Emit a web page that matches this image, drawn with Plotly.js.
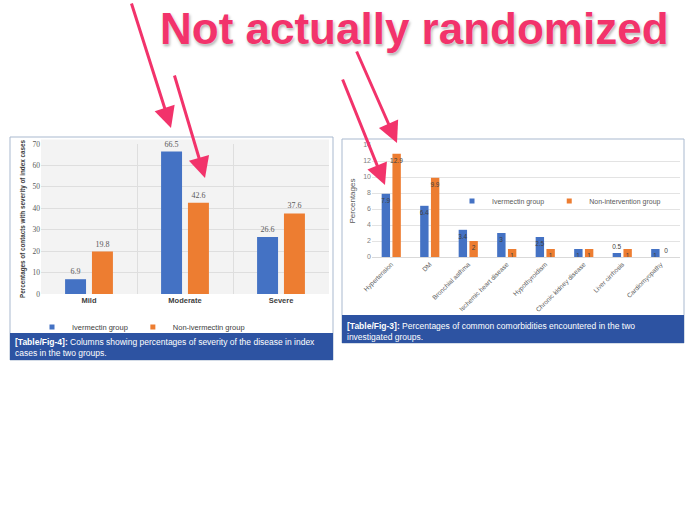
<!DOCTYPE html>
<html>
<head>
<meta charset="utf-8">
<script src="https://cdn.plot.ly/plotly-3.0.1.min.js"></script>
<style>html,body{margin:0;padding:0;background:#fff;}#chart{width:700px;height:525px;}</style>
</head>
<body>
<div id="chart"></div>
<script>
// ---- Data ----
const severityCats = ['Mild', 'Moderate', 'Severe'];
const severityIvermectin = [6.9, 66.5, 26.6];
const severityNonIvermectin = [19.8, 42.6, 37.6];

const comorbidCats = ['Hypertension', 'DM', 'Bronchial asthma', 'Ischemic heart disease',
  'Hypothyroidism', 'Chronic kidney disease', 'Liver cirrhosis', 'Cardiomyopathy'];
const comorbidIvermectin = [7.9, 6.4, 3.4, 3, 2.5, 1, 0.5, 1];
const comorbidNonIntervention = [12.9, 9.9, 2, 1, 1, 1, 1, 0];

const leftYTicks = [0, 10, 20, 30, 40, 50, 60, 70];
const rightYTicks = [0, 2, 4, 6, 8, 10, 12, 14];

const titleText = 'Not actually randomized';
const leftCaptionLabel = '[Table/Fig-4]:';
const leftCaptionText = 'Columns showing percentages of severity of the disease in index<br>cases in the two groups.';
const rightCaptionLabel = '[Table/Fig-3]:';
const rightCaptionText = 'Percentages of common comorbidities encountered in the two<br>investigated groups.';

// ---- Helpers: pixel -> paper ----
const W = 700, H = 525;
const px = x => x / W;
const py = y => 1 - y / H;

const BLUE = '#4472c4', ORANGE = '#ed7d31', PINK = '#f2336b', CAP = '#2d53a2';
const SANS = 'Liberation Sans, Arial, sans-serif';
const SERIF = 'Liberation Serif, serif';

function sevBar(name, vals, color) {
  return {type: 'bar', name: name, x: severityCats, y: vals, xaxis: 'x', yaxis: 'y',
    marker: {color: color}, showlegend: false,
    text: vals.map(String), textposition: 'outside', cliponaxis: false, textangle: 0,
    textfont: {family: SERIF, size: 8, color: '#595959'}};
}
function comBar(name, vals, color) {
  return {type: 'bar', name: name, x: comorbidCats, y: vals, xaxis: 'x2', yaxis: 'y2',
    marker: {color: color}, showlegend: false,
    text: vals.map(String),
    textposition: vals.map(v => v >= 1 ? 'inside' : 'outside'),
    insidetextanchor: 'end', constraintext: 'none', cliponaxis: false, textangle: 0,
    textfont: {family: SANS, size: 6.5, color: '#404040'},
    insidetextfont: {family: SANS, size: 6.5, color: '#404040'},
    outsidetextfont: {family: SANS, size: 6.5, color: '#404040'}};
}
function legendEntry(name, color, legendId, xa, ya, grp) {
  return {type: 'scatter', mode: 'markers', name: name, x: [null], y: [null],
    xaxis: xa, yaxis: ya, legend: legendId, legendgroup: grp,
    marker: {symbol: 'square', size: 5, color: color}, hoverinfo: 'skip'};
}

const traces = [
  sevBar('Ivermectin group', severityIvermectin, BLUE),
  sevBar('Non-ivermectin group', severityNonIvermectin, ORANGE),
  comBar('Ivermectin group', comorbidIvermectin, BLUE),
  comBar('Non-intervention group', comorbidNonIntervention, ORANGE),
  legendEntry('Ivermectin group', BLUE, 'legend', 'x', 'y', 'g1'),
  legendEntry('Non-ivermectin group', ORANGE, 'legend', 'x', 'y', 'g2'),
  legendEntry('Ivermectin group', BLUE, 'legend2', 'x2', 'y2', 'g3'),
  legendEntry('Non-intervention group', ORANGE, 'legend2', 'x2', 'y2', 'g4')
];

// arrows: [tipX, tipY, tailX, tailY] in pixels
const arrows = [
  [171, 128, 131, 2],
  [205, 178, 174, 74],
  [385, 185, 342, 78],
  [397, 143, 356, 50]
];

const annotations = [
  {text: titleText, xref: 'paper', yref: 'paper', x: px(414), y: py(28),
   xanchor: 'center', yanchor: 'middle', showarrow: false,
   font: {family: SANS, size: 44, color: PINK, weight: 'bold',
          shadow: '0px 0px 2px #ffffff, 1px 2px 3px rgba(0,0,0,0.35)'}},
  {text: '<b>' + leftCaptionLabel + '</b> ' + leftCaptionText, xref: 'paper', yref: 'paper',
   x: px(13), y: py(347), xanchor: 'left', yanchor: 'middle', align: 'left', showarrow: false,
   font: {family: SANS, size: 8.5, color: '#ffffff'}},
  {text: '<b>' + rightCaptionLabel + '</b> ' + rightCaptionText, xref: 'paper', yref: 'paper',
   x: px(345), y: py(331), xanchor: 'left', yanchor: 'middle', align: 'left', showarrow: false,
   font: {family: SANS, size: 8.5, color: '#ffffff'}}
];
arrows.forEach(a => annotations.push({
  text: '', xref: 'paper', yref: 'paper', x: px(a[0]), y: py(a[1]),
  axref: 'pixel', ayref: 'pixel', ax: a[2] - a[0], ay: a[3] - a[1],
  showarrow: true, arrowhead: 2, arrowwidth: 3, arrowsize: 1.4, arrowcolor: PINK, standoff: 0
}));

const shapes = [
  {type: 'rect', xref: 'paper', yref: 'paper', x0: px(10), x1: px(333), y0: py(360), y1: py(137),
   line: {color: '#a9b9cf', width: 1}, fillcolor: '#ffffff', layer: 'below'},
  {type: 'rect', xref: 'paper', yref: 'paper', x0: px(342), x1: px(684), y0: py(343), y1: py(139),
   line: {color: '#a9b9cf', width: 1}, fillcolor: '#ffffff', layer: 'below'},
  {type: 'rect', xref: 'x domain', yref: 'y domain', x0: 0, x1: 1, y0: 0, y1: 1.03,
   line: {width: 0}, fillcolor: '#f3f3f3', layer: 'below'},
  {type: 'rect', xref: 'paper', yref: 'paper', x0: px(10), x1: px(333), y0: py(360), y1: py(333),
   line: {width: 0}, fillcolor: CAP, layer: 'above'},
  {type: 'rect', xref: 'paper', yref: 'paper', x0: px(342), x1: px(684), y0: py(343), y1: py(315),
   line: {width: 0}, fillcolor: CAP, layer: 'above'}
];

const layout = {
  width: W, height: H,
  margin: {l: 0, r: 0, t: 0, b: 0},
  paper_bgcolor: '#ffffff', plot_bgcolor: 'rgba(0,0,0,0)',
  barmode: 'group', bargap: 0.44, bargroupgap: 0.22,
  showlegend: true,
  font: {family: SANS, color: '#595959'},
  xaxis: {domain: [px(41), px(329)], anchor: 'y', type: 'category', tickson: 'boundaries',
          showgrid: true, gridcolor: '#dedede', ticks: '', ticklen: 0,
          tickfont: {family: SANS, size: 7.5, color: '#404040', weight: 'bold'}},
  yaxis: {domain: [py(294), py(144)], anchor: 'x', range: [0, 70], tickvals: leftYTicks,
          showgrid: true, gridcolor: '#dedede', zeroline: false, ticks: '',
          tickfont: {family: SERIF, size: 7.5, color: '#595959'},
          title: {text: 'Percentages of contacts with severity of index cases', standoff: 6,
                  font: {family: SANS, size: 6.3, color: '#404040', weight: 'bold'}}},
  xaxis2: {domain: [px(372), px(680)], anchor: 'y2', type: 'category', tickangle: -45,
           showgrid: false, showline: true, linecolor: '#d9d9d9', ticks: '',
           tickfont: {family: SANS, size: 6.5, color: '#595959'}},
  yaxis2: {domain: [py(257), py(145)], anchor: 'x2', range: [0, 14], tickvals: rightYTicks,
           showgrid: true, gridcolor: '#e3e3e3', zeroline: false, ticks: '',
           tickfont: {family: SANS, size: 7, color: '#808080'},
           title: {text: 'Percentages', standoff: 6, font: {family: SANS, size: 8, color: '#595959'}}},
  legend: {orientation: 'h', traceorder: 'normal', x: px(32), y: py(327), xanchor: 'left', yanchor: 'middle',
           bgcolor: 'rgba(0,0,0,0)', itemwidth: 30, itemclick: false,
           font: {family: SANS, size: 7.5, color: '#404040'}},
  legend2: {orientation: 'h', traceorder: 'normal', x: px(452), y: py(201), xanchor: 'left', yanchor: 'middle',
            bgcolor: 'rgba(0,0,0,0)', itemwidth: 30, itemclick: false,
            font: {family: SANS, size: 7, color: '#595959'}},
  shapes: shapes,
  annotations: annotations
};

Plotly.newPlot('chart', traces, layout, {displayModeBar: false, staticPlot: true});
</script>
</body>
</html>
